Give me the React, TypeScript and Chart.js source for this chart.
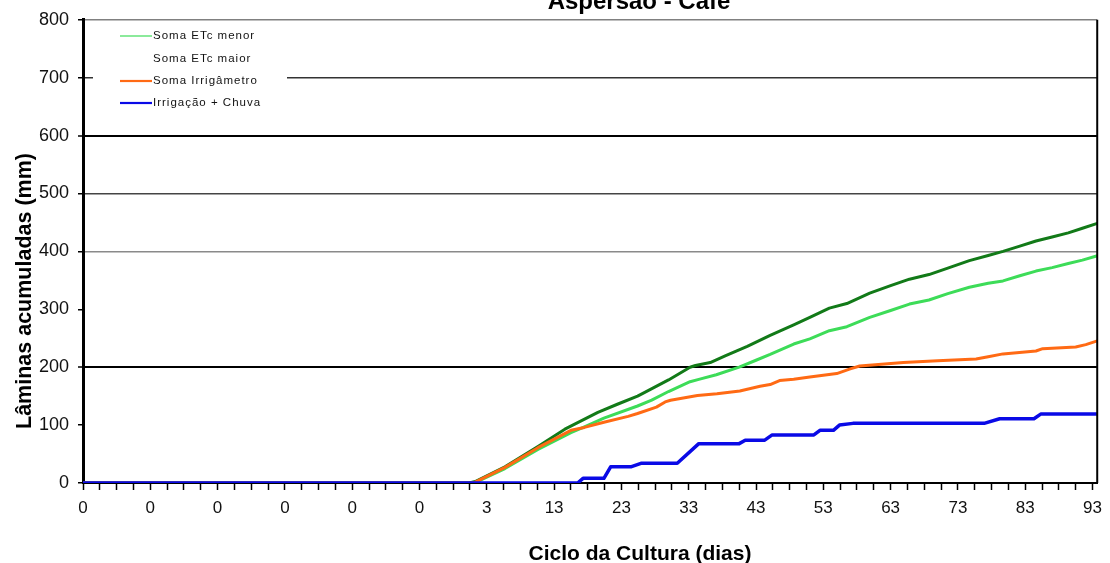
import React, { useEffect, useRef } from "react";
import { Chart, registerables } from "chart.js";

Chart.register(...registerables);

const FONT = '"Liberation Sans", Arial, Helvetica, sans-serif';

const chartTitle = "Aspersão - Café";
const xAxisTitle = "Ciclo da Cultura (dias)";
const yAxisTitle = "Lâminas acumuladas (mm)";

// x-axis tick labels (one per major tick, every 10 rows)
const xTickLabels = ["0", "0", "0", "0", "0", "0", "3", "13", "23", "33", "43", "53", "63", "73", "83", "93"];

const seriesLabels = ["Soma ETc menor", "Soma ETc maior", "Soma Irrigâmetro", "Irrigação + Chuva"];

// Soma ETc menor (light green)
const menorX = [0, 57.3, 58.5, 62.7, 67.6, 72.5, 74.5, 77.4, 82.4, 84.5, 87.0, 90.2, 91.5, 94.1, 97.5, 100.0, 102.1, 105.6, 108.0, 110.9, 113.5, 116.9, 120.0, 122.8, 125.7, 128.5, 131.7, 134.5, 136.7, 139.2, 141.6, 144.0, 146.4, 148.5, 150.6];
const menorY = [0, 0, 2, 25, 58, 87, 97, 112, 133, 143, 158, 175, 179, 187, 200, 212, 222, 240, 249, 263, 270, 286, 298, 309, 316, 327, 338, 345, 349, 358, 366, 372, 379, 385, 392];

// Soma ETc maior (dark green)
const maiorX = [0, 57.3, 58.2, 62.7, 67.6, 71.6, 76.5, 79.4, 82.4, 83.4, 87.0, 90.2, 91.0, 93.2, 95.5, 98.7, 102.1, 105.6, 108.0, 110.9, 113.5, 116.9, 120.0, 122.8, 125.7, 128.5, 131.7, 134.5, 136.7, 139.2, 141.6, 144.0, 146.4, 148.5, 150.6];
const maiorY = [0, 0, 2, 28, 63, 93, 122, 136, 150, 156, 178, 200, 203, 208, 220, 236, 255, 273, 286, 302, 310, 328, 341, 352, 360, 371, 384, 393, 400, 409, 418, 425, 432, 440, 448];

// Soma Irrigâmetro (orange)
const irrX = [0, 57.6, 58.2, 62.7, 67.6, 72.5, 74.5, 77.4, 81.0, 82.4, 85.2, 86.5, 87.3, 91.3, 94.2, 97.6, 100.6, 102.1, 103.5, 105.6, 108.0, 112.0, 114.0, 115.4, 121.9, 127.0, 132.7, 134.5, 136.7, 141.6, 142.6, 147.5, 149.0, 150.6];
const irrY = [0, 0, 1, 27, 61, 91, 96, 105, 115, 120, 131, 140, 143, 151, 154, 159, 167, 170, 177, 179, 183, 189, 197, 202, 208, 211, 214, 218, 223, 228, 232, 235, 239, 245];

// Irrigação + Chuva (blue)
const chuvaX = [0, 73.5, 74.3, 77.4, 78.4, 81.4, 82.9, 88.3, 91.5, 97.5, 98.4, 101.3, 102.4, 108.6, 109.5, 111.5, 112.4, 114.4, 133.9, 136.2, 141.3, 142.3, 150.6];
const chuvaY = [0, 0, 8, 8, 28, 28, 34, 34, 68, 68, 74, 74, 83, 83, 91, 91, 100, 103, 103, 111, 111, 119, 119];

const seriesColors = ["#3ddc58", "#127a18", "#ff6a14", "#0a0ae6"];

const gridColorFor = (v: number) => {
  switch (v) {
    case 800: return "#808080";
    case 700: return "#333333";
    case 600: return "#000000";
    case 500: return "#444444";
    case 400: return "#8a8a8a";
    case 200: return "#000000";
    default: return "rgba(0,0,0,0)";
  }
};

const decor = {
  id: "decor",
  afterDraw(chart: any) {
    const { ctx, chartArea: a } = chart;
    ctx.save();
    // right frame
    ctx.strokeStyle = "#000";
    ctx.lineWidth = 2;
    ctx.beginPath();
    ctx.moveTo(a.right, a.top);
    ctx.lineTo(a.right, a.bottom);
    ctx.stroke();

    // legend box
    const lx = a.left + 10;
    const ly = a.top + 6;
    ctx.fillStyle = "#fff";
    ctx.fillRect(lx, ly, 194, 89);
    const rows = [36, 59, 81, 103];
    ctx.font = `11.5px ${FONT}`;
    (ctx as any).letterSpacing = "1px";
    ctx.textBaseline = "middle";
    ctx.textAlign = "left";
    chart.data.datasets.forEach((ds: any, i: number) => {
      const y = rows[i];
      if (i !== 1) {
        ctx.strokeStyle = ds.borderColor;
        ctx.lineWidth = i === 0 ? 1.2 : 2.2;
        ctx.beginPath();
        ctx.moveTo(a.left + 37, y);
        ctx.lineTo(a.left + 69, y);
        ctx.stroke();
      }
      ctx.fillStyle = "#111";
      ctx.fillText(ds.label, a.left + 70, y);
    });
    (ctx as any).letterSpacing = "0px";

    // chart title (clipped at the top edge)
    ctx.fillStyle = "#000";
    ctx.font = `bold 24px ${FONT}`;
    ctx.textAlign = "center";
    ctx.textBaseline = "alphabetic";
    ctx.fillText(chartTitle, 639, 9);

    // x-axis title
    ctx.font = `bold 21px ${FONT}`;
    ctx.fillText(xAxisTitle, 640, 560);

    // y-axis title
    ctx.translate(31, 291);
    ctx.rotate(-Math.PI / 2);
    ctx.font = `bold 21.5px ${FONT}`;
    ctx.fillText(yAxisTitle, 0, 0);
    ctx.restore();
  },
};

export default function App() {
  const ref = useRef<HTMLCanvasElement>(null);

  useEffect(() => {
    const canvas = ref.current!;
    Chart.defaults.font.family = FONT;
    const toPts = (xs: number[], ys: number[]) => xs.map((x, i) => ({ x, y: ys[i] }));
    const chart = new Chart(canvas, {
      type: "line",
      data: {
        datasets: [
          { label: seriesLabels[0], data: toPts(menorX, menorY), borderColor: seriesColors[0], borderWidth: 3, order: 3 },
          { label: seriesLabels[1], data: toPts(maiorX, maiorY), borderColor: seriesColors[1], borderWidth: 3, order: 2 },
          { label: seriesLabels[2], data: toPts(irrX, irrY), borderColor: seriesColors[2], borderWidth: 3, order: 1 },
          { label: seriesLabels[3], data: toPts(chuvaX, chuvaY), borderColor: seriesColors[3], borderWidth: 3.5, order: 0 },
        ] as any,
      },
      options: {
        animation: false,
        responsive: false,
        devicePixelRatio: 1,
        layout: { padding: { left: 0, right: 8, top: 18, bottom: 0 } },
        elements: {
          point: { radius: 0 },
          line: { tension: 0, fill: false, borderCapStyle: "round", borderJoinStyle: "round" },
        },
        plugins: {
          legend: { display: false },
          title: { display: false },
          tooltip: { enabled: false },
        },
        scales: {
          x: {
            type: "linear",
            min: 0,
            max: 150.7,
            afterBuildTicks: (s: any) => {
              const t = [];
              for (let i = 0; i <= 60; i++) t.push({ value: i * 2.5 });
              s.ticks = t;
            },
            afterFit: (s: any) => {
              s.height = 80;
            },
            ticks: {
              autoSkip: false,
              maxRotation: 0,
              minRotation: 0,
              padding: 8,
              color: "#111",
              font: { size: 17, family: FONT },
              callback: (v: any) => {
                const n = Number(v);
                return Math.abs(n % 10) < 1e-6 ? xTickLabels[Math.round(n / 10)] : "";
              },
            },
            grid: {
              drawOnChartArea: false,
              drawTicks: true,
              tickLength: 7,
              tickWidth: 1.5,
              tickColor: "#000",
            },
            border: { display: true, color: "#000", width: 2 },
          },
          y: {
            min: 0,
            max: 800,
            afterFit: (s: any) => {
              s.width = 83;
            },
            ticks: {
              stepSize: 100,
              padding: 9,
              color: "#111",
              font: { size: 18, family: FONT },
            },
            grid: {
              color: (c: any) => gridColorFor(c.tick ? c.tick.value : -1),
              lineWidth: (c: any) => {
                const v = c.tick ? c.tick.value : -1;
                return v === 600 || v === 200 ? 2 : 1.5;
              },
              tickLength: 5,
              tickWidth: 1.5,
              tickColor: "#000",
            },
            border: { display: true, color: "#000", width: 3 },
          },
        },
      } as any,
      plugins: [decor],
    });
    return () => chart.destroy();
  }, []);

  return (
    <div style={{ position: "absolute", left: 0, top: 0, width: 1110, height: 563, background: "#fff" }}>
      <canvas ref={ref} width={1110} height={563} style={{ display: "block" }} />
    </div>
  );
}
